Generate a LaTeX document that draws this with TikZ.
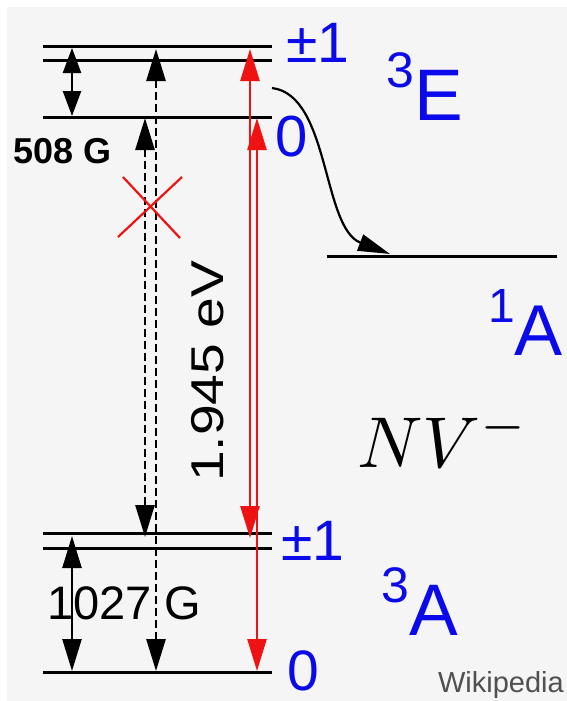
\documentclass[tikz,border=0pt]{standalone}
\usepackage{fontspec}
\setmainfont{Liberation Sans}
\usetikzlibrary{arrows.meta}
\definecolor{bgray}{RGB}{245,245,245}
\definecolor{lblue}{RGB}{10,10,235}
\definecolor{lred}{RGB}{238,18,18}
\definecolor{wgray}{RGB}{80,80,80}
\newcommand\fsz[1]{\fontsize{#1}{#1}\selectfont}
\begin{document}
\begin{tikzpicture}[x=1pt,y=-1pt,
  level/.style={line width=3pt,black},
  blackarrow/.style={line width=2.4pt,black,{Triangle[length=32pt,width=19pt]}-{Triangle[length=32pt,width=19pt]}},
  smallarrow/.style={line width=2.4pt,black,{Triangle[length=25pt,width=18pt]}-{Triangle[length=25pt,width=18pt]}},
  dasharrow/.style={line width=2.8pt,black,dash pattern=on 8pt off 4pt,{Triangle[length=32pt,width=19pt]}-{Triangle[length=32pt,width=19pt]}},
  redarrow/.style={line width=2.6pt,lred,{Triangle[length=32pt,width=19pt]}-{Triangle[length=32pt,width=19pt]}},
  curvearrow/.style={line width=2.2pt,black,-{Triangle[length=32pt,width=17pt]}},
  lbl/.style={inner sep=0pt,text=lblue},
  txt/.style={inner sep=0pt,text=black}]
\useasboundingbox (0,0) rectangle (567,701);
\fill[white] (0,0) rectangle (567,701);
\fill[bgray] (7,7) rectangle (567,701);
% level coordinates
\coordinate (EpaL) at (43,47);  \coordinate (EpaR) at (272,47);
\coordinate (EpbL) at (43,61);  \coordinate (EpbR) at (272,61);
\coordinate (EzL)  at (43,117); \coordinate (EzR)  at (272,117);
\coordinate (ApaL) at (43,533); \coordinate (ApaR) at (272,533);
\coordinate (ApbL) at (43,548); \coordinate (ApbR) at (272,548);
\coordinate (AzL)  at (43,672); \coordinate (AzR)  at (272,672);
\coordinate (SL)   at (327,256); \coordinate (SR)  at (557,256);
% levels
\draw[level] (EpaL) -- (EpaR);
\draw[level] (EpbL) -- (EpbR);
\draw[level] (EzL) -- (EzR);
\draw[level] (ApaL) -- (ApaR);
\draw[level] (ApbL) -- (ApbR);
\draw[level] (AzL) -- (AzR);
\draw[level] (SL) -- (SR);
% arrow end points
\coordinate (zt) at (72,48);   \coordinate (zb) at (72,116);
\coordinate (gt) at (72,536);  \coordinate (gb) at (72,671);
\coordinate (d1t) at (145,118); \coordinate (d1b) at (145,537);
\coordinate (d2t) at (156,49);  \coordinate (d2b) at (156,671);
\coordinate (r1t) at (250,49);  \coordinate (r1b) at (250,538);
\coordinate (r2t) at (257,118); \coordinate (r2b) at (257,671);
\coordinate (cs) at (272,88);   \coordinate (ce) at (390,254);
% arrows
\draw[smallarrow] (zt) -- (zb);
\draw[blackarrow] (gt) -- (gb);
\draw[dasharrow] (d1t) -- (d1b);
\draw[dasharrow] (d2t) -- (d2b);
\draw[redarrow] (r1t) -- (r1b);
\draw[redarrow] (r2t) -- (r2b);
\draw[curvearrow] (cs) .. controls (330,95) and (322,228) .. (ce);
% forbidden cross
\draw[lred,line width=2.2pt] (123,177) -- (180,238);
\draw[lred,line width=2.2pt] (182,177) -- (118,237);
% labels
\node[lbl,anchor=base west] (pmE) at (286,63) {\fsz{57}±1};
\node[lbl,anchor=base west] (zE) at (275,156) {\fsz{58}0};
\node[lbl,anchor=base west] (tE) at (386,120) {\raisebox{33pt}{\fsz{50}3}\fsz{73}E};
\node[lbl,anchor=base west] (sA) at (488,355) {\raisebox{33pt}{\fsz{48}1}\fsz{72}A};
\node[lbl,anchor=base west] (pmA) at (281,560) {\fsz{57}±1};
\node[lbl,anchor=base west] (zA) at (287,690) {\fsz{57}0};
\node[lbl,anchor=base west] (tA) at (381,635) {\raisebox{33pt}{\fsz{50}3}\fsz{73}A};
\node[txt,anchor=base west] (nv) at (357,467) {\scalebox{7.2}{\fsz{10}$NV^-$}};
\node[txt,anchor=base west] (g508) at (13,163) {\fsz{36}\bfseries 508 G};
\node[txt,anchor=base west] (g1027) at (47,619) {\fsz{47}1027 G};
\node[txt,anchor=base west,rotate=90] (ev) at (223,482) {\scalebox{1.2}[1]{\fsz{46}1.945 eV}};
\node[inner sep=0pt,text=wgray,anchor=base east] (wiki) at (564,692) {\fsz{29}Wikipedia};
\end{tikzpicture}
\end{document}
